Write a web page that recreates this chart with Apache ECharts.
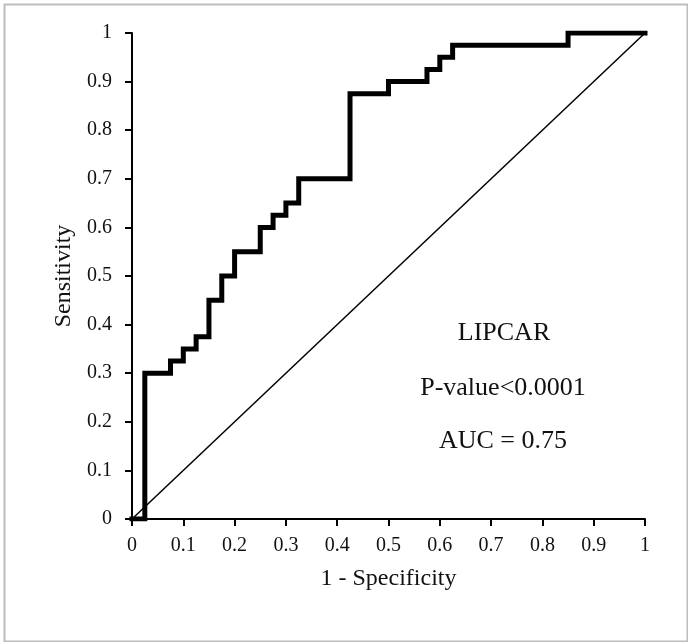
<!DOCTYPE html>
<html><head><meta charset="utf-8">
<script src="https://cdn.jsdelivr.net/npm/echarts@6/dist/echarts.min.js"></script>
<style>html,body{margin:0;padding:0;background:#fff}#c{width:688px;height:642px}</style>
</head><body><div id="c"></div>
<script>
const fpr = [0,0.025,0.075,0.1,0.125,0.15,0.175,0.2,0.25,0.275,0.3,0.325,0.425,0.5,0.575,0.6,0.625,0.85,1];
const tpr = [0,0.3,0.325,0.35,0.375,0.45,0.5,0.55,0.6,0.625,0.65,0.7,0.875,0.9,0.925,0.95,0.975,1,1];
const refX = [0,1];
const refY = [0,1];
const annotations = ['LIPCAR','P-value<0.0001','AUC = 0.75'];
const xName = '1 - Specificity';
const yName = 'Sensitivity';

const font = '"Liberation Serif", "Times New Roman", serif';
const chart = echarts.init(document.getElementById('c'), null, {renderer:'canvas'});
const axisCommon = {
  type:'value', min:0, max:1, interval:0.1,
  axisLine:{show:true, onZero:false, lineStyle:{color:'#000', width:2}},
  axisTick:{show:true, length:7, lineStyle:{color:'#000', width:2}},
  splitLine:{show:false},
  axisLabel:{color:'#111', fontFamily:font, fontSize:20, formatter:v=>String(+v.toFixed(1))},
  nameTextStyle:{color:'#111', fontFamily:font, fontSize:24}
};
chart.setOption({
  animation:false,
  grid:{left:132, right:43, top:33, bottom:123, containLabel:false},
  xAxis:Object.assign({}, axisCommon, {name:xName, nameLocation:'middle', nameGap:48,
    axisLabel:Object.assign({}, axisCommon.axisLabel, {margin:17})}),
  yAxis:Object.assign({}, axisCommon, {name:yName, nameLocation:'middle', nameGap:55,
    axisLabel:Object.assign({}, axisCommon.axisLabel, {margin:20})}),
  graphic:[
    {type:'rect', left:2, top:2, shape:{width:683, height:637}, style:{fill:'none', stroke:'#bdbdbd', lineWidth:2}, silent:true},
    {type:'text', x:504, y:333, style:{text:annotations[0], font:'26px '+font, fill:'#111', align:'center', verticalAlign:'middle'}},
    {type:'text', x:503, y:388, style:{text:annotations[1], font:'26px '+font, fill:'#111', align:'center', verticalAlign:'middle'}},
    {type:'text', x:503, y:441, style:{text:annotations[2], font:'26px '+font, fill:'#111', align:'center', verticalAlign:'middle'}}
  ],
  series:[
    {type:'line', data:refX.map((x,i)=>[x,refY[i]]), symbol:'none', lineStyle:{color:'#000', width:1.5}, z:2},
    {type:'line', step:'end', data:fpr.map((x,i)=>[x,tpr[i]]), symbol:'none', lineStyle:{color:'#000', width:5, join:'miter', cap:'square'}, z:3}
  ]
});
</script></body></html>
